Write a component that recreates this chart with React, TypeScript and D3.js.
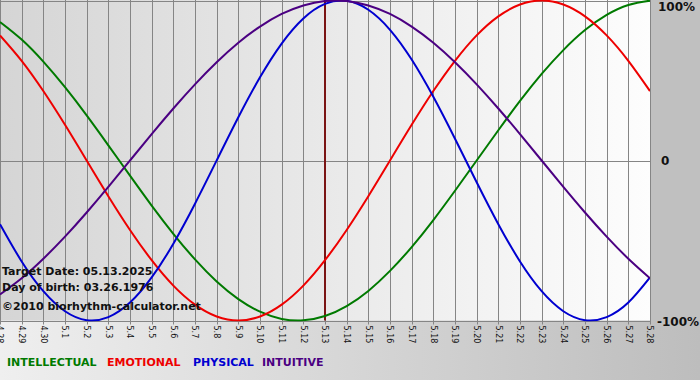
import React from "react";
import * as d3 from "d3";

const dayLabels = ["4.28","4.29","4.30","5.1","5.2","5.3","5.4","5.5","5.6","5.7","5.8","5.9","5.10","5.11","5.12","5.13","5.14","5.15","5.16","5.17","5.18","5.19","5.20","5.21","5.22","5.23","5.24","5.25","5.26","5.27","5.28"];

const intellectual = [0.866,0.756,0.618,0.458,0.282,0.095,-0.095,-0.282,-0.458,-0.618,-0.756,-0.866,-0.945,-0.990,-0.999,-0.972,-0.910,-0.815,-0.690,-0.541,-0.372,-0.189,0,0.189,0.372,0.541,0.690,0.815,0.910,0.972,0.999];
const emotional = [0.782,0.623,0.434,0.223,0,-0.223,-0.434,-0.623,-0.782,-0.901,-0.975,-1,-0.975,-0.901,-0.782,-0.623,-0.434,-0.223,0,0.223,0.434,0.623,0.782,0.901,0.975,1,0.975,0.901,0.782,0.623,0.434];
const physical = [-0.398,-0.631,-0.817,-0.942,-0.998,-0.979,-0.888,-0.731,-0.520,-0.270,0,0.270,0.520,0.731,0.888,0.979,0.998,0.942,0.817,0.631,0.398,0.136,-0.136,-0.398,-0.631,-0.817,-0.942,-0.998,-0.979,-0.888,-0.731];
const intuitive = [-0.837,-0.736,-0.614,-0.476,-0.325,-0.165,0,0.165,0.325,0.476,0.614,0.736,0.837,0.916,0.969,0.997,0.997,0.969,0.916,0.837,0.736,0.614,0.476,0.325,0.165,0,-0.165,-0.325,-0.476,-0.614,-0.736];

const targetIndex = 15;
const yTicks = [1, 0, -1];
const yTickLabels = ["100%", "0", "-100%"];

const seriesNames = ["INTELLECTUAL", "EMOTIONAL", "PHYSICAL", "INTUITIVE"];
const seriesColors = ["#007a00", "#ee0000", "#0000d0", "#4b0082"];
const legendX = [7, 107, 193, 262];

const infoLines = ["Target Date: 05.13.2025", "Day of birth: 03.26.1976", "\u00a92010 biorhythm-calculator.net"];

export default function App() {
  const W = 700, H = 380;
  const plotR = 650, plotT = 0.5, plotB = 320.5;
  const x = d3.scaleLinear().domain([0, dayLabels.length - 1]).range([0, plotR]);
  const y = d3.scaleLinear().domain([-1, 1]).range([plotB, plotT]);
  const line = d3.line<number>().x((_, i) => x(i)).y((v) => y(v)).curve(d3.curveNatural);
  const series = [intellectual, emotional, physical, intuitive];
  const font = "'DejaVu Sans', Verdana, sans-serif";
  return (
    <svg width={W} height={H} style={{ position: "absolute", left: 0, top: 0, display: "block" }}>
      <defs>
        <linearGradient id="outerBg" x1="0" x2="1" y1="0" y2="0">
          <stop offset="0%" stopColor="#efefef" />
          <stop offset="100%" stopColor="#bdbdbd" />
        </linearGradient>
        <linearGradient id="plotBg" x1="0" x2="1" y1="0" y2="0">
          <stop offset="0%" stopColor="#d5d5d5" />
          <stop offset="100%" stopColor="#fdfdfd" />
        </linearGradient>
        <clipPath id="plotClip">
          <rect x={0} y={0} width={plotR} height={plotB + 1} />
        </clipPath>
      </defs>
      <rect x={0} y={0} width={W} height={H} fill="url(#outerBg)" />
      <rect x={plotR} y={0} width={W - plotR} height={plotB} fill="#c0c0c0" />
      <rect x={0} y={0} width={plotR} height={plotB} fill="url(#plotBg)" />
      {dayLabels.map((lab, i) => (
        <g key={lab}>
          <line x1={Math.round(x(i)) + 0.5} x2={Math.round(x(i)) + 0.5} y1={0} y2={plotB + 4} stroke="#858585" strokeWidth={1} />
          <text
            transform={`translate(${x(i)},${plotB + 5}) rotate(90)`}
            dy="0.35em"
            fontFamily={font}
            fontSize={8}
            fill="#111"
          >
            {lab}
          </text>
        </g>
      ))}
      {yTicks.map((t, i) => (
        <line key={"h" + i} x1={0} x2={plotR} y1={Math.round(y(t)) + 0.5} y2={Math.round(y(t)) + 0.5} stroke="#858585" strokeWidth={1} />
      ))}
      <line x1={x(targetIndex)} x2={x(targetIndex)} y1={0} y2={plotB} stroke="#7a1414" strokeWidth={2} />
      <g clipPath="url(#plotClip)">
        {series.map((s, i) => (
          <path key={seriesNames[i]} d={line(s) || ""} fill="none" stroke={seriesColors[i]} strokeWidth={2} />
        ))}
      </g>
      {infoLines.map((t, i) => (
        <text key={t} x={2} y={[275, 291, 310][i]} fontFamily={font} fontWeight="bold" fontSize={11} fill="#111">
          {t}
        </text>
      ))}
      {yTicks.map((t, i) => (
        <text key={"yl" + i} x={i === 2 ? 657 : i === 1 ? 661 : 658} y={y(t) + [10.5, 4.5, 5.5][i]} fontFamily={font} fontWeight="bold" fontSize={12} fill="#111">
          {yTickLabels[i]}
        </text>
      ))}
      {seriesNames.map((n, i) => (
        <text key={n} x={legendX[i]} y={366} fontFamily={font} fontWeight="bold" fontSize={11} fill={seriesColors[i]}>
          {n}
        </text>
      ))}
    </svg>
  );
}
